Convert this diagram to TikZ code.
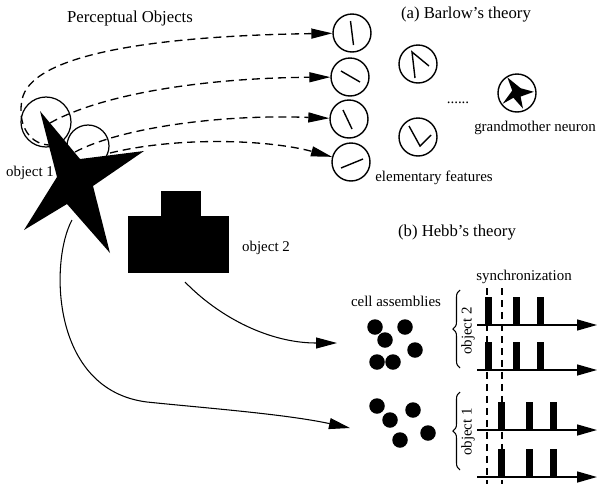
\documentclass[tikz,border=0pt]{standalone}
\usepackage{fontspec}
\setmainfont{Liberation Serif}
\usetikzlibrary{positioning}
\usetikzlibrary{arrows.meta}
\usetikzlibrary{decorations.pathreplacing}
\tikzset {
  % receptive fields on the object and the detector cells
  field/.style = {draw, circle, inner sep=0pt, line width=0.7pt},
  cell/.style = {draw, circle, minimum size=0.76cm, inner sep=0pt, line width=0.8pt},
  % the feature a cell is tuned to
  bar/.style = {line width=0.8pt},
  % members of an assembly
  unit/.style = {fill, circle, minimum size=0.31cm, inner sep=0pt},
  % connections
  feed/.style = {dash pattern=on 0.16cm off 0.1cm, line width=0.75pt, -{Triangle[length=0.42cm, width=0.2cm]}},
  bind/.style = {line width=0.6pt, -{Triangle[length=0.42cm, width=0.22cm]}},
  % spike trains
  time/.style = {line width=0.8pt, -{Triangle[length=0.4cm, width=0.22cm]}},
  sync/.style = {dash pattern=on 0.14cm off 0.1cm, line width=0.8pt},
  curly/.style = {line width=0.6pt, decorate, decoration={brace, amplitude=4pt}},
  title/.style = {font=\fontsize{9.5}{11}\selectfont, inner sep=0pt},
  txt/.style = {font=\fontsize{8.5}{10}\selectfont, inner sep=0pt},
}

\begin{document}
\begin{tikzpicture}[x=0.02cm, y=-0.02cm]
      \useasboundingbox (0,0) rectangle (597,484);

      \node[title] (head) at (130,18) {Perceptual Objects};
      \node[title] (barlow) at (466,15) {(a) Barlow’s theory};
      \node[title] (hebb) at (457,233) {(b) Hebb’s theory};

      % receptive fields
      \node[field, minimum size=1.0cm] (rf1) at (46,122) {};
      \node[field, minimum size=0.84cm] (rf2) at (88,146) {};

      % feature detectors
      \node[cell] (f1) at (352,33) {};
      \node[cell] (f2) at (350,77) {};
      \node[cell] (f3) at (349,119) {};
      \node[cell] (f4) at (351,162) {};
      \node[cell] (m1) at (418,64) {};
      \node[cell] (m2) at (418,137) {};
      \node[cell] (g) at (517,93) {};
      \node[txt] (dots) at (458,103) {......};
      \node[txt] (elem) at (434,178) {elementary features};
      \node[txt] (grand) at (535,128) {grandmother neuron};

      \draw[bar] ([shift={(-1.5,-12)}]f1.center) -- ([shift={(1.5,12)}]f1.center);
      \draw[bar] ([shift={(-9,-6)}]f2.center) -- ([shift={(10,5)}]f2.center);
      \draw[bar] ([shift={(-6,-9)}]f3.center) -- ([shift={(3,10)}]f3.center);
      \draw[bar] ([shift={(-10,6)}]f4.center) -- ([shift={(12,-3)}]f4.center);
      \draw[bar] ([shift={(-3,14)}]m1.center) -- ([shift={(-6,-12)}]m1.center) -- ([shift={(11,2)}]m1.center);
      \draw[bar] ([shift={(-9,-11)}]m2.center) -- ([shift={(2,9)}]m2.center) -- ([shift={(13,-2)}]m2.center);
      \begin{scope}[shift={(g)}, scale=1.2]
        \fill (-8,-13) -- (3,-4) -- (14,-1) -- (3,3) -- (5,13) -- (-3,4) -- (-12,9) -- (-4,-2) -- cycle;
      \end{scope}

      % dashed feedforward lines
      \coordinate (s1) at (52,145);
      \coordinate (s2) at (50,123);
      \coordinate (s3) at (75,152);
      \coordinate (s4) at (110,153);
      \draw[feed] (s1) .. controls (30,146) and (17,125) .. (22,100) .. controls (30,55) and (150,36) .. (f1);
      \draw[feed] (s2) .. controls (100,95) and (200,78) .. (f2);
      \draw[feed] (s3) .. controls (120,128) and (220,114) .. (f3);
      \draw[feed] (s4) .. controls (180,136) and (270,140) .. (f4);

      % object 1
      \fill (40,111) -- (80,159) -- (144,151) -- (93,186) -- (110,253) -- (67,204) -- (24,230) -- (57,177) -- cycle;
      \node[txt] (obj1) at (30,173) {object 1};

      % object 2
      \fill (128,216) rectangle (229,273);
      \fill (161,191) rectangle (201,217);
      \node[txt] (obj2) at (266,248) {object 2};

      % cell assemblies
      \node[txt] (cells) at (396,301) {cell assemblies};
      \node[unit] (u1) at (375,327) {};
      \node[unit] (u2) at (405,327) {};
      \node[unit] (u3) at (385,340) {};
      \node[unit] (u4) at (415,350) {};
      \node[unit] (u5) at (377,362) {};
      \node[unit] (u6) at (393,362) {};
      \node[unit] (v1) at (377,406) {};
      \node[unit] (v2) at (390,420) {};
      \node[unit] (v3) at (413,410) {};
      \node[unit] (v4) at (400,440) {};
      \node[unit] (v5) at (428,433) {};

      \coordinate (o2out) at (185,282);
      \coordinate (a2in) at (337,343);
      \coordinate (o1out) at (72,220);
      \coordinate (a1in) at (350,428);
      \draw[bind] (o2out) .. controls (220,318) and (270,343) .. (a2in);
      \draw[bind] (o1out) .. controls (50,260) and (50,390) .. (147,402) .. controls (205,408) and (285,414) .. (a1in);

      % spike trains
      \node[txt] (syncl) at (524,277) {synchronization};
      \coordinate (t1) at (477,325);
      \coordinate (t2) at (477,370);
      \coordinate (t3) at (477,430);
      \coordinate (t4) at (477,477);
      \coordinate (e1) at (597,325);
      \coordinate (e2) at (597,370);
      \coordinate (e3) at (597,430);
      \coordinate (e4) at (597,477);
      \draw[time] (t1) -- (e1);
      \draw[time] (t2) -- (e2);
      \draw[time] (t3) -- (e3);
      \draw[time] (t4) -- (e4);

      \fill (484.5,297) rectangle (491.5,325);
      \fill (512.5,297) rectangle (519.5,325);
      \fill (536.5,297) rectangle (543.5,325);
      \fill (484.5,342) rectangle (491.5,370);
      \fill (512.5,342) rectangle (519.5,370);
      \fill (536.5,342) rectangle (543.5,370);
      \fill (497.5,402) rectangle (504.5,430);
      \fill (525.5,402) rectangle (532.5,430);
      \fill (549.5,402) rectangle (556.5,430);
      \fill (497.5,449) rectangle (504.5,477);
      \fill (525.5,449) rectangle (532.5,477);
      \fill (549.5,449) rectangle (556.5,477);

      \coordinate (p1) at (487,288);
      \coordinate (q1) at (487,484);
      \coordinate (p2) at (502,288);
      \coordinate (q2) at (502,484);
      \draw[sync] (p1) -- (q1);
      \draw[sync] (p2) -- (q2);

      % which trains belong to which object
      \draw[curly] (460,368) -- (460,290);
      \draw[curly] (460,470) -- (460,392);
      \node[txt, rotate=90] (lab2) at (468,331) {object 2};
      \node[txt, rotate=90] (lab1) at (468,432) {object 1};
\end{tikzpicture}
\end{document}
